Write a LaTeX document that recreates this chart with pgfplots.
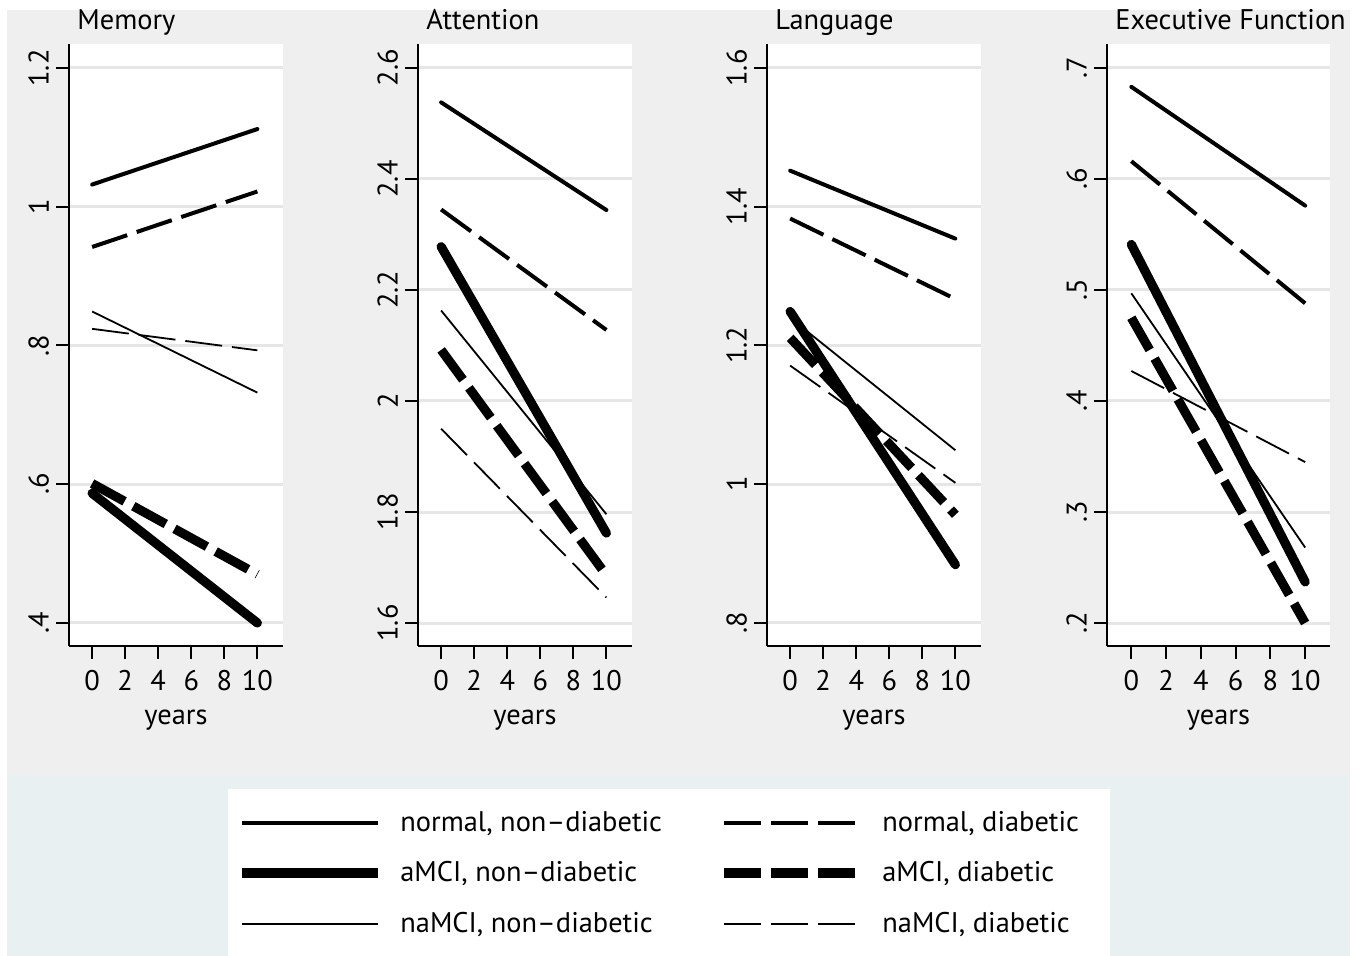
\documentclass[border=0pt]{standalone}
\usepackage{fontspec}
\setmainfont{PT Sans}
\usepackage{pgfplots}
\pgfplotsset{compat=1.18}

\definecolor{bggrey}{RGB}{239,239,239}
\definecolor{legbg}{RGB}{233,240,242}
\definecolor{gridc}{RGB}{230,230,230}

\newcommand{\lab}{\fontsize{14.2}{17}\selectfont}

% line styles for the six groups
\tikzset{
  nn/.style={black, line width=2pt, line cap=round},
  nd/.style={black, line width=2pt, dash pattern=on 18.5pt off 5pt},
  an/.style={black, line width=4.6pt, line cap=round},
  ad/.style={black, line width=4.6pt, dash pattern=on 18.5pt off 5pt},
  mn/.style={black, line width=0.9pt},
  md/.style={black, line width=0.9pt, dash pattern=on 18.5pt off 5pt},
}

\pgfplotsset{
  panel/.style={
    scale only axis, anchor=south west,
    height=301pt, width=107pt,
    axis x line*=bottom, axis y line*=left,
    axis line style={-, line width=1pt, black},
    axis background/.style={fill=white},
    xmin=-1.4, xmax=11.55,
    xtick={0,2,4,6,8,10}, xticklabels={0,2,4,6,8,10},
    tick align=outside, major tick length=6.5pt,
    tick style={line width=1pt, black},
    ymajorgrids, major grid style={line width=1.5pt, gridc},
    yticklabel style={rotate=90, anchor=south},
    xticklabel style={yshift=-2pt},
    ticklabel style={font=\lab},
    xlabel={years}, xlabel style={font=\lab, yshift=-3pt},
  },
}

\begin{document}
\begin{tikzpicture}
\begin{scope}[x=0.5pt, y=0.5pt]
\path[use as bounding box, fill=white] (0,0) rectangle (1365,956);
\fill[bggrey] (7,181) rectangle (1350,946);
\fill[legbg] (7,0) rectangle (1350,181);
\fill[white] (228,0) rectangle (1110,167);
\end{scope}

% Memory
\begin{axis}[panel, at={(34.5pt,155pt)},
  ymin=0.3668, ymax=1.2346,
  ytick={0.4,0.6,0.8,1,1.2}, yticklabels={.4,.6,.8,1,1.2}]
\addplot[nn] coordinates {(0,1.032) (10,1.112)};
\addplot[nd] coordinates {(0,0.942) (10,1.022)};
\addplot[mn] coordinates {(0,0.849) (10,0.732)};
\addplot[md] coordinates {(0,0.824) (10,0.793)};
\addplot[an] coordinates {(0,0.587) (10,0.400)};
\addplot[ad] coordinates {(0,0.601) (10,0.470)};
\end{axis}

% Attention
\begin{axis}[panel, at={(209pt,155pt)},
  ymin=1.5586, ymax=2.6432,
  ytick={1.6,1.8,2,2.2,2.4,2.6}, yticklabels={1.6,1.8,2,2.2,2.4,2.6}]
\addplot[nn] coordinates {(0,2.538) (10,2.344)};
\addplot[nd] coordinates {(0,2.345) (10,2.128)};
\addplot[mn] coordinates {(0,2.163) (10,1.796)};
\addplot[md] coordinates {(0,1.950) (10,1.646)};
\addplot[an] coordinates {(0,2.278) (10,1.762)};
\addplot[ad] coordinates {(0,2.092) (10,1.686)};
\end{axis}

% Language
\begin{axis}[panel, at={(383.5pt,155pt)},
  ymin=0.7668, ymax=1.6346,
  ytick={0.8,1,1.2,1.4,1.6}, yticklabels={.8,1,1.2,1.4,1.6}]
\addplot[nn] coordinates {(0,1.452) (10,1.354)};
\addplot[nd] coordinates {(0,1.383) (10,1.267)};
\addplot[mn] coordinates {(0,1.240) (10,1.049)};
\addplot[md] coordinates {(0,1.171) (10,1.002)};
\addplot[an] coordinates {(0,1.249) (10,0.884)};
\addplot[ad] coordinates {(0,1.211) (10,0.956)};
\end{axis}

% Executive Function
\begin{axis}[panel, at={(553.5pt,155pt)}, width=111.5pt, xmax=11.43,
  ymin=0.1793, ymax=0.7216,
  ytick={0.2,0.3,0.4,0.5,0.6,0.7}, yticklabels={.2,.3,.4,.5,.6,.7}]
\addplot[nn] coordinates {(0,0.683) (10,0.576)};
\addplot[nd] coordinates {(0,0.616) (10,0.488)};
\addplot[mn] coordinates {(0,0.497) (10,0.268)};
\addplot[md] coordinates {(0,0.427) (10,0.345)};
\addplot[an] coordinates {(0,0.541) (10,0.237)};
\addplot[ad] coordinates {(0,0.475) (10,0.200)};
\end{axis}

\begin{scope}[x=0.5pt, y=0.5pt]
% panel titles
\node[anchor=base west, inner sep=0, font=\lab] at (77,926) {Memory};
\node[anchor=base west, inner sep=0, font=\lab] at (426,926) {Attention};
\node[anchor=base west, inner sep=0, font=\lab] at (775,926) {Language};
\node[anchor=base west, inner sep=0, font=\lab] at (1115,926) {Executive Function};
% legend
\draw[nn, line cap=butt] (242,133) -- (378,133);
\draw[an, line cap=butt] (242,83) -- (378,83);
\draw[mn] (242,32) -- (378,32);
\draw[nd] (724,133) -- (860,133);
\draw[ad] (724,83) -- (860,83);
\draw[md] (724,32) -- (860,32);
\node[anchor=mid west, inner sep=0, font=\lab] at (400,129) {normal, non–diabetic};
\node[anchor=mid west, inner sep=0, font=\lab] at (400,79) {aMCI, non–diabetic};
\node[anchor=mid west, inner sep=0, font=\lab] at (400,28) {naMCI, non–diabetic};
\node[anchor=mid west, inner sep=0, font=\lab] at (882,129) {normal, diabetic};
\node[anchor=mid west, inner sep=0, font=\lab] at (882,79) {aMCI, diabetic};
\node[anchor=mid west, inner sep=0, font=\lab] at (882,28) {naMCI, diabetic};
\end{scope}
\end{tikzpicture}
\end{document}
